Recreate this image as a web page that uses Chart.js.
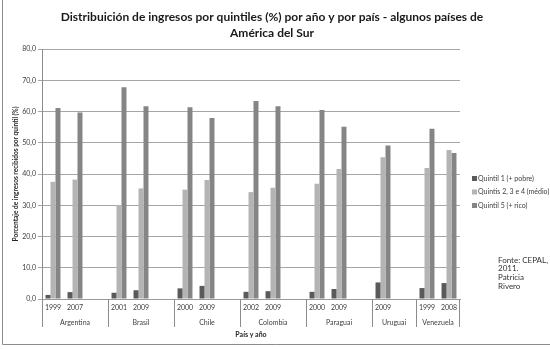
<!DOCTYPE html>
<html>
<head>
<meta charset="utf-8">
<script src="https://cdn.jsdelivr.net/npm/chart.js@4/dist/chart.umd.min.js"></script>
<style>
  html, body { margin: 0; padding: 0; background: #fff; }
  canvas { display: block; }
</style>
</head>
<body>
<canvas id="chart" width="550" height="349"></canvas>
<script>
/* global Chart */
const countries = ["Argentina", "Brasil", "Chile", "Colombia", "Paraguai", "Uruguai", "Venezuela"];
const years = [["1999", "2007"], ["2001", "2009"], ["2000", "2009"], ["2002", "2009"], ["2000", "2009"], ["2009"], ["1999", "2008"]];
const quintil1 = [1.3, 2.2, 2.0, 2.8, 3.4, 4.2, 2.3, 2.5, 2.3, 3.2, 5.3, 3.5, 5.1];
const quintis234 = [37.5, 38.2, 30.1, 35.4, 35.0, 38.1, 34.2, 35.6, 36.9, 41.6, 45.4, 41.9, 47.7];
const quintil5 = [61.1, 59.7, 67.8, 61.7, 61.4, 57.9, 63.4, 61.7, 60.5, 55.1, 49.1, 54.5, 46.7];
const seriesNames = ["Quintil 1 (+ pobre)", "Quintis 2, 3 e 4 (médio)", "Quintil 5 (+ rico)"];
const yMax = 80;
const yStep = 10;

const titleLines = ["Distribuición de ingresos por quintiles (%) por año y por país - algunos países de", "América del Sur"];
const yTitle = "Porcentaje de ingresos recibidos por quintil (%)";
const xTitle = "País y año";
const noteLines = ["Fonte: CEPAL,", "2011.", "Patricia", "Rivero"];

const colors = ["#5a5a5a", "#b4b4b4", "#858585"];
const FONT = "Lato, 'Open Sans', sans-serif";

// expand into Excel-like slots: each country followed by an empty slot (not the last one)
const labels = [];
const groups = []; // {name, first, last}
const s1 = [], s2 = [], s3 = [];
let k = 0;
countries.forEach((name, ci) => {
  const first = labels.length;
  years[ci].forEach((y) => {
    labels.push(y);
    s1.push(quintil1[k]);
    s2.push(quintis234[k]);
    s3.push(quintil5[k]);
    k++;
  });
  if (ci < countries.length - 1) {
    labels.push("");
    s1.push(null); s2.push(null); s3.push(null);
  }
  groups.push({ name, first, last: labels.length - 1 });
});

const extras = {
  id: "extras",
  afterDraw(chart) {
    const ctx = chart.ctx;
    const x = chart.scales.x;
    const area = chart.chartArea;
    const half = (x.getPixelForValue(1) - x.getPixelForValue(0)) / 2;
    ctx.save();

    // outer frame
    ctx.strokeStyle = "#8c8c8c";
    ctx.lineWidth = 1;
    ctx.beginPath();
    ctx.moveTo(2.5, 0);
    ctx.lineTo(2.5, 344.5);
    ctx.lineTo(550, 344.5);
    ctx.stroke();

    // group dividers + country labels
    ctx.strokeStyle = "#8c8c8c";
    ctx.fillStyle = "#404040";
    ctx.font = "7px " + FONT;
    ctx.textAlign = "center";
    ctx.textBaseline = "middle";
    groups.forEach((g, i) => {
      const left = x.getPixelForValue(g.first) - half;
      const right = x.getPixelForValue(g.last) + half;
      ctx.beginPath();
      const lx = Math.round(left) + 0.5;
      ctx.moveTo(lx, area.bottom);
      ctx.lineTo(lx, area.bottom + 28);
      if (i === groups.length - 1) {
        const rx = Math.round(right) - 0.5;
        ctx.moveTo(rx, area.bottom);
        ctx.lineTo(rx, area.bottom + 28);
      }
      ctx.stroke();
      ctx.fillText(g.name, (left + right) / 2, area.bottom + 24);
    });

    // axis titles
    ctx.font = "bold 7px " + FONT;
    ctx.fillStyle = "#262626";
    ctx.fillText(xTitle, (area.left + area.right) / 2, area.bottom + 36);
    ctx.save();
    ctx.translate(16, (area.top + area.bottom) / 2);
    ctx.rotate(-Math.PI / 2);
    ctx.font = "bold 6.5px " + FONT;
    ctx.fillText(yTitle, 0, 0);
    ctx.restore();

    // title
    ctx.font = "bold 12px " + FONT;
    ctx.fillStyle = "#1a1a1a";
    ctx.fillText(titleLines[0], 272, 17);
    ctx.fillText(titleLines[1], 272, 33);

    // legend
    ctx.font = "7px " + FONT;
    ctx.textAlign = "left";
    ctx.fillStyle = "#404040";
    const legendY = [178.5, 192, 205.5];
    chart.data.datasets.forEach((ds, i) => {
      ctx.fillStyle = ds.backgroundColor;
      ctx.fillRect(472, legendY[i] - 2.5, 5, 5);
      ctx.fillStyle = "#404040";
      ctx.fillText(ds.label, 478, legendY[i]);
    });

    // source note
    ctx.font = "8px " + FONT;
    ctx.fillStyle = "#333";
    noteLines.forEach((t, i) => ctx.fillText(t, 498, 260 + i * 8.8));

    ctx.restore();
  },
};

new Chart(document.getElementById("chart"), {
  type: "bar",
  data: {
    labels,
    datasets: [
      { label: seriesNames[0], data: s1, backgroundColor: colors[0] },
      { label: seriesNames[1], data: s2, backgroundColor: colors[1] },
      { label: seriesNames[2], data: s3, backgroundColor: colors[2] },
    ],
  },
  options: {
    responsive: false,
    animation: false,
    devicePixelRatio: 1,
    layout: { padding: { top: 49, right: 90, bottom: 0, left: 0 } },
    datasets: { bar: { categoryPercentage: 0.68, barPercentage: 1 } },
    plugins: { legend: { display: false }, title: { display: false }, tooltip: { enabled: false } },
    scales: {
      x: {
        grid: { display: false, drawTicks: false },
        border: { display: true, color: "#9a9a9a" },
        ticks: { color: "#404040", font: { family: FONT, size: 7 }, padding: 5, maxRotation: 0, autoSkip: false },
        afterFit(scale) { scale.height = 50; },
      },
      y: {
        min: 0,
        max: yMax,
        ticks: {
          stepSize: yStep,
          color: "#404040",
          font: { family: FONT, size: 7 },
          padding: 2,
          callback: (v) => v.toFixed(1).replace(".", ","),
        },
        grid: { color: "#a6a6a6", tickLength: 4 },
        border: { display: true, color: "#8c8c8c" },
        afterFit(scale) { scale.width = 42; },
      },
    },
  },
  plugins: [extras],
});
</script>
</body>
</html>
